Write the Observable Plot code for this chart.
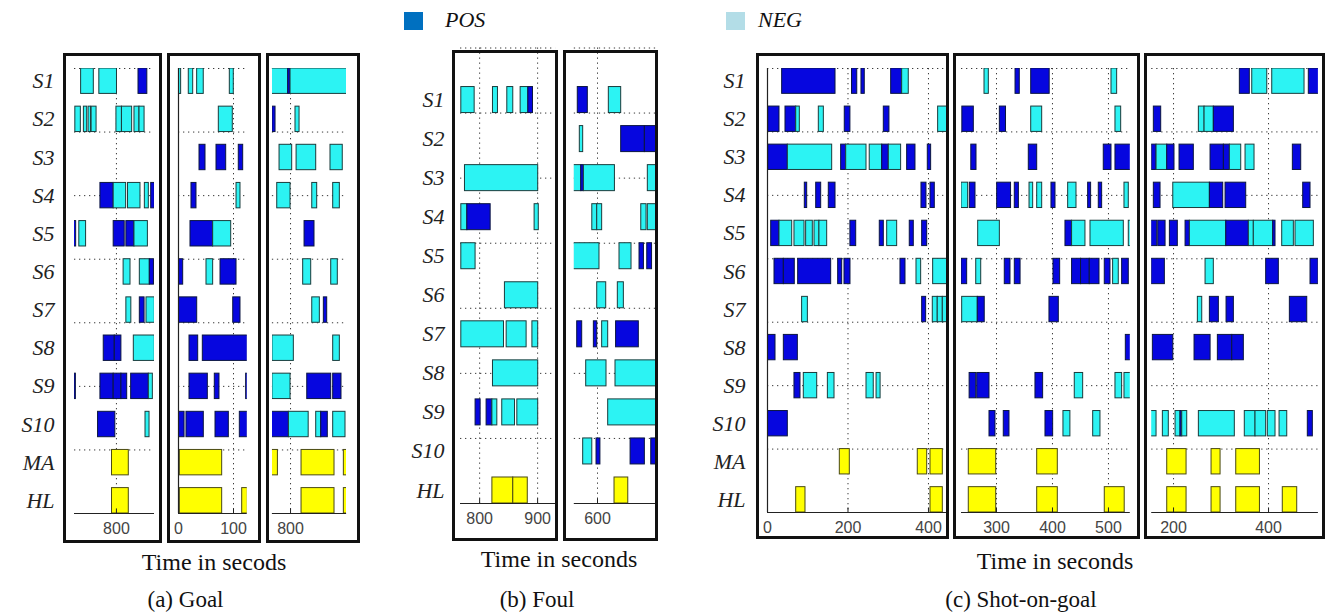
<!DOCTYPE html>
<html><head><meta charset="utf-8">
<script src="https://cdn.jsdelivr.net/npm/d3@7"></script>
<script src="https://cdn.jsdelivr.net/npm/@observablehq/plot@0.6"></script>
<style>
body{margin:0;background:#fff;}
#root{position:relative;width:1326px;height:614px;overflow:hidden;background:#fff;font-family:"Liberation Serif","Times New Roman",serif;}
.box{position:absolute;box-sizing:border-box;border:3px solid #111;pointer-events:none;}
.t{position:absolute;white-space:nowrap;line-height:1;color:#111;font-family:"Liberation Serif","Times New Roman",serif;}
.sq{position:absolute;}
</style></head><body><div id="root"></div>
<script>
// ---------- rows ----------
const rowsGoal = ["S1","S2","S3","S4","S5","S6","S7","S8","S9","S10","MA","HL"];
const rowsFoul = ["S1","S2","S3","S4","S5","S6","S7","S8","S9","S10","HL"];
const rowsShot = ["S1","S2","S3","S4","S5","S6","S7","S8","S9","S10","MA","HL"];

// ---------- x ticks ----------
const ticksGoalA = [800], ticksGoalB = [0, 100], ticksGoalC = [800];
const ticksFoulA = [800, 900], ticksFoulB = [600];
const ticksShotA = [0, 200, 400], ticksShotB = [300, 400, 500], ticksShotC = [200, 400];

// ---------- x domains (seconds) ----------
const domGoalA = [724, 869], domGoalB = [0, 125], domGoalC = [767, 902];
const domFoulA = [767, 931], domFoulB = [560, 702];
const domShotA = [0, 450], domShotB = [237.5, 539], domShotC = [154, 505];

// ---------- y grid (row units) ----------
const gridY12 = [-0.333, 1.333, 3, 4.667, 6.333, 8, 9.667];
const gridY11 = [-1.333, 0.333, 2, 3.667, 5.333, 7, 8.667];

// ---------- segments: [row, start, end, P=POS / N=NEG] ----------
const goalA = [
 ["S1",736,759,"N"],["S1",769,801,"N"],["S1",840,856,"P"],
 ["S2",725.5,735.5,"N"],["S2",741,747,"N"],["S2",749.5,754,"N"],["S2",755,764,"N"],["S2",800,810,"N"],["S2",810,828.5,"N"],["S2",832.7,841.8,"N"],["S2",841.8,851,"N"],
 ["S4",771,795,"P"],["S4",795,817.6,"N"],["S4",821,843.6,"N"],["S4",851.5,858.7,"N"],["S4",863,869.6,"P"],
 ["S5",722,727,"P"],["S5",732.7,745,"N"],["S5",795,815,"P"],["S5",818,832.7,"P"],["S5",832.7,857,"N"],
 ["S6",813,825.5,"N"],["S6",842.4,860.5,"N"],["S6",860.5,868,"P"],
 ["S7",818,827,"N"],["S7",842.4,851,"P"],["S7",854.5,869.6,"N"],
 ["S8",777,797,"P"],["S8",797,809,"P"],["S8",831.5,869.6,"N"],
 ["S9",724,726.5,"P"],["S9",771,795,"P"],["S9",795,809,"P"],["S9",809,819.5,"P"],["S9",826.7,858.7,"P"],["S9",858.7,866,"N"],
 ["S10",766.7,798,"P"],["S10",852.7,860,"N"],
 ["MA",792,822.4,"Y"],["HL",792,822.4,"Y"]
];
const goalB = [
 ["S1",0,4.8,"N"],["S1",18.7,26.7,"N"],["S1",33.9,45.9,"N"],["S1",93.3,100.5,"N"],
 ["S2",73.3,98.7,"N"],
 ["S3",38.2,49.1,"P"],["S3",69.1,86.7,"P"],["S3",109.6,117.6,"P"],
 ["S4",23.6,32.7,"P"],["S4",105.5,112.7,"N"],
 ["S5",21.8,63,"P"],["S5",63,95.8,"N"],
 ["S6",0.5,8.5,"P"],["S6",50.9,63,"N"],["S6",76.4,105.5,"P"],
 ["S7",0.5,34,"P"],["S7",99.5,112.7,"P"],
 ["S8",20,35.8,"P"],["S8",44.2,126,"P"],
 ["S9",20,53.3,"P"],["S9",66,74.5,"P"],["S9",123,126,"P"],
 ["S10",0.5,11,"P"],["S10",14.5,46,"P"],["S10",67.3,91.5,"P"],["S10",111.5,126,"P"],
 ["MA",2.4,79.4,"Y"],
 ["HL",2.4,79.4,"Y"],["HL",115.8,126,"Y"]
];
const goalC = [
 ["S1",760,795.8,"N"],["S1",795.8,800,"P"],["S1",800,910,"N"],
 ["S2",767,772.7,"P"],["S2",809,816.4,"N"],
 ["S3",780,803,"N"],["S3",811,846.7,"N"],["S3",872.7,895,"N"],
 ["S4",775.8,800,"N"],["S4",839.5,848.5,"N"],["S4",877.6,889.7,"N"],
 ["S5",825.5,843.6,"P"],
 ["S6",823,837.6,"N"],["S6",874,886,"N"],
 ["S7",839.5,853.3,"N"],["S7",860.6,866.7,"P"],
 ["S8",767,806,"N"],["S8",877.6,889.7,"N"],
 ["S9",767,800,"N"],["S9",830.4,874,"P"],["S9",877.6,892.7,"P"],
 ["S10",760,797,"P"],["S10",797,833,"N"],["S10",846.7,855.8,"N"],["S10",855.8,867.8,"P"],["S10",877.6,900,"N"],
 ["MA",760,777,"Y"],["MA",820,880,"Y"],["MA",897,910,"Y"],
 ["HL",820,880,"Y"],["HL",897,910,"Y"]
];
const foulA = [
 ["S1",768.4,791.4,"N"],["S1",823,831.6,"N"],["S1",847.7,858,"N"],["S1",870.7,884,"N"],["S1",884,892,"P"],
 ["S3",774.7,901,"N"],
 ["S4",768.4,778.8,"N"],["S4",778.8,819,"P"],["S4",894.8,902,"N"],
 ["S5",768.4,793,"N"],
 ["S6",843.6,901,"N"],
 ["S7",768.4,842,"N"],["S7",846.6,881,"N"],["S7",891,901,"N"],
 ["S8",823,901,"N"],
 ["S9",793,801.7,"P"],["S9",812,822,"P"],["S9",822,830.5,"N"],["S9",839,861,"N"],["S9",865,901,"N"],
 ["HL",822,858,"Y"],["HL",858,883,"Y"]
];
const foulB = [
 ["S1",566,583.3,"P"],["S1",619.5,640.8,"N"],
 ["S2",569.5,575.3,"N"],["S2",640.8,681.6,"P"],["S2",681.6,705,"P"],
 ["S3",558,572,"N"],["S3",572,576.5,"P"],["S3",576.5,630,"N"],["S3",686.7,701,"N"],
 ["S4",591,599.5,"N"],["S4",599.5,608,"N"],["S4",675.4,684.5,"N"],["S4",686.7,701,"N"],
 ["S5",558,603.4,"N"],["S5",637.9,658.6,"N"],["S5",672.4,680,"P"],["S5",685.7,694,"P"],
 ["S6",599.5,615,"N"],["S6",635,645.4,"N"],
 ["S7",565,573.6,"P"],["S7",593.7,599.5,"P"],["S7",608,618.4,"N"],["S7",632,671.2,"P"],
 ["S8",580.5,615.5,"N"],["S8",631,705,"N"],
 ["S9",618.4,705,"N"],
 ["S10",575.3,591,"N"],["S10",598.3,605,"P"],["S10",657,681.6,"P"],["S10",692.6,705,"P"],
 ["HL",629.3,653,"Y"]
];
const shotA = [
 ["S1",36.4,169,"P"],["S1",210,223,"P"],["S1",233.5,241.7,"P"],["S1",307.3,334.6,"P"],["S1",334.6,351,"N"],
 ["S2",1.7,29.8,"P"],["S2",44.7,71.3,"P"],["S2",71.3,80.3,"N"],["S2",127.5,140,"N"],["S2",192,206,"P"],["S2",289,303,"P"],["S2",424,455,"N"],
 ["S3",1.7,50.5,"P"],["S3",50.5,160.7,"N"],["S3",183,195.5,"P"],["S3",195.5,246,"N"],["S3",254,285,"N"],["S3",285,301.4,"P"],["S3",301.4,332,"N"],["S3",347,367.7,"P"],["S3",398.3,406.6,"P"],
 ["S4",92.7,98.6,"P"],["S4",121,133.4,"P"],["S4",152.3,169,"P"],["S4",382.6,395,"P"],["S4",405,415.7,"P"],
 ["S5",9.2,29.8,"P"],["S5",29.8,61.4,"N"],["S5",67,92,"N"],["S5",96,112.6,"N"],["S5",116.8,129,"N"],["S5",129,148.3,"N"],["S5",206,220.4,"P"],["S5",279,289,"P"],["S5",297.4,322.2,"N"],["S5",353.5,363.5,"P"],["S5",384.3,396.8,"P"],
 ["S6",17.4,40.6,"P"],["S6",40.6,67.8,"P"],["S6",76.2,158.2,"P"],["S6",175.6,185.6,"P"],["S6",191.3,206.2,"P"],["S6",330.4,342.9,"P"],["S6",370.2,381.8,"N"],["S6",411.6,455,"N"],
 ["S7",86,100.3,"N"],["S7",384.3,394.2,"P"],["S7",410.7,423,"N"],["S7",423,435.6,"N"],["S7",435.6,455,"N"],
 ["S8",0,19.9,"P"],["S8",40.6,75.4,"P"],
 ["S9",67,82,"P"],["S9",90.2,123.5,"N"],["S9",150,166.5,"N"],["S9",246,264,"N"],["S9",271,281,"N"],
 ["S10",0,50.5,"P"],
 ["MA",179.7,204.5,"Y"],["MA",373.4,396.8,"Y"],["MA",405,435.6,"Y"],
 ["HL",71.3,94.4,"Y"],["HL",405,435.6,"Y"]
];
const shotB = [
 ["S1",278.6,286.3,"N"],["S1",334,341.6,"P"],["S1",362,395,"P"],["S1",505.4,515.5,"N"],
 ["S2",239,259.5,"P"],["S2",306,317,"P"],["S2",362,381.6,"N"],["S2",512.5,522.7,"N"],
 ["S3",255,264.3,"P"],["S3",357.7,372.7,"P"],["S3",491.6,505.4,"P"],["S3",512.5,545,"P"],
 ["S4",237.5,249.4,"N"],["S4",252.4,262.5,"P"],["S4",301.2,326,"P"],["S4",332.7,340,"P"],["S4",359,365.5,"N"],["S4",372.7,381.6,"N"],["S4",398.2,405.4,"P"],["S4",428,442.9,"N"],["S4",463.7,469,"P"],["S4",482.7,488.7,"P"],["S4",528.6,536.3,"N"],
 ["S5",267.3,306,"N"],["S5",423.2,435,"P"],["S5",435,458.9,"N"],["S5",467.9,527.4,"N"],["S5",536.3,545,"N"],
 ["S6",237.5,247.6,"P"],["S6",263.8,272.7,"N"],["S6",314.8,325,"P"],["S6",332.7,343,"P"],["S6",401.8,413.7,"P"],["S6",435,451,"P"],["S6",451,466.6,"P"],["S6",466.6,484,"P"],["S6",493.4,503.6,"P"],["S6",508.3,518.4,"N"],["S6",524.4,536.3,"P"],
 ["S7",238.7,266.6,"N"],["S7",266.6,279,"P"],["S7",394.6,411.3,"P"],
 ["S8",531,545,"P"],
 ["S9",252,263.8,"P"],["S9",265.6,287.5,"P"],["S9",369.6,383.3,"P"],["S9",439.8,454.8,"N"],["S9",512.5,524.4,"N"],["S9",528.6,545,"N"],
 ["S10",287.5,298.2,"P"],["S10",313,323.2,"P"],["S10",387.5,401.2,"P"],["S10",419.6,432,"N"],["S10",472.7,485.7,"N"],
 ["MA",250.5,299.5,"Y"],["MA",372.7,409.5,"Y"],
 ["HL",250.5,299.5,"Y"],["HL",372.7,409.5,"Y"],["HL",493.4,529,"Y"]
];
const shotC = [
 ["S1",339.6,360.6,"P"],["S1",365.7,397.3,"N"],["S1",407.8,475.8,"N"],["S1",484.8,510,"P"],
 ["S2",158.5,174,"P"],["S2",253.3,265.3,"N"],["S2",265.3,284.8,"N"],["S2",284.8,327,"P"],
 ["S3",154,164.2,"P"],["S3",164.2,186.7,"N"],["S3",186.7,202,"P"],["S3",212.6,242.7,"P"],["S3",277.9,306,"P"],["S3",306,318.6,"P"],["S3",318.6,342.5,"N"],["S3",351.6,370.5,"N"],["S3",451.2,468.8,"P"],
 ["S4",158.5,172.6,"P"],["S4",199.4,276.5,"N"],["S4",276.5,304.6,"P"],["S4",309.5,353,"P"],["S4",473,488.4,"P"],
 ["S5",153,165.7,"P"],["S5",167.8,183.2,"P"],["S5",192.3,209,"P"],["S5",225.3,234.4,"P"],["S5",234.4,311,"N"],["S5",311,358.5,"P"],["S5",358.5,369,"N"],["S5",369,409.9,"N"],["S5",409.9,414.7,"P"],["S5",428.8,453.3,"N"],["S5",456.8,495.4,"N"],
 ["S6",153.7,181.7,"P"],["S6",267.4,284.8,"N"],["S6",395,421.7,"P"],["S6",488.4,505,"P"],
 ["S7",251.2,260.4,"N"],["S7",276.5,295.4,"P"],["S7",311.6,327,"P"],["S7",444.9,481.5,"P"],
 ["S8",156.4,199.4,"P"],["S8",244.2,278,"P"],["S8",293.3,323.6,"P"],["S8",323.6,348,"P"],
 ["S10",150,164.2,"N"],["S10",177.5,190,"N"],["S10",204.2,214.7,"N"],["S10",214.7,218.3,"P"],["S10",218.3,228.8,"N"],["S10",253.3,329,"N"],["S10",350,372.6,"N"],["S10",372.6,395,"N"],["S10",398.5,414.7,"N"],["S10",423.2,439.4,"N"],["S10",482.7,493.3,"P"],
 ["MA",186.7,227.4,"Y"],["MA",280,299,"Y"],["MA",332,381.9,"Y"],
 ["HL",186.7,227.4,"Y"],["HL",280,299,"Y"],["HL",332,381.9,"Y"],["HL",430,460.4,"Y"]
];

// ---------- rendering ----------
const root = document.getElementById("root");
const FILL = {P: "#0606df", N: "#2cf3f3", Y: "#ffff00"};
const STROKE = {P: "#0b1640", N: "#1a3c3c", Y: "#4a4a14"};
const DOT = "1.3,3.7";

function panel(cfg) {
  const [bl, bt, br, bb] = cfg.box;
  const svgLeft = cfg.labelDx != null ? cfg.svgLeft : bl;
  const svgTop = 38;
  const [yTopVal, yBotVal] = cfg.yDomain;
  const idx = new Map(cfg.rows.map((r, i) => [r, i]));
  const half = 0.333;
  const segs = cfg.data.map(([r, s, e, t]) => ({y: idx.get(r), s, e, t}));
  const marks = [
    Plot.ruleY(cfg.gridY, {stroke: "#3a3a3a", strokeWidth: 1, strokeDasharray: DOT}),
    Plot.ruleX(cfg.ticks.filter(v => v !== 0), {y1: yTopVal, y2: yBotVal, stroke: "#3a3a3a", strokeWidth: 1, strokeDasharray: DOT}),
    Plot.rect(segs, {x1: "s", x2: "e", y1: d => d.y - half, y2: d => d.y + half,
      fill: d => FILL[d.t], stroke: d => STROKE[d.t], strokeWidth: 1, clip: true}),
    Plot.ruleY([yBotVal], {stroke: "#222", strokeWidth: 1.2}),
    Plot.ruleX(cfg.ticks, {y1: yBotVal, y2: yBotVal - 0.12, stroke: "#222", strokeWidth: 1}),
    Plot.axisX({ticks: cfg.ticks, tickSize: 0, tickPadding: 9, fontSize: 16,
      fontFamily: "Liberation Sans, Arial, sans-serif", fill: "#444"})
  ];
  if (cfg.domain[0] === 0) marks.push(Plot.ruleX([0], {y1: yTopVal, y2: yBotVal, stroke: "#222", strokeWidth: 1.2}));
  if (cfg.labelDx != null) {
    marks.push(Plot.text(cfg.rows, {y: (d, i) => i, text: d => d, frameAnchor: "left", textAnchor: "end",
      dx: -cfg.labelDx, fontSize: 22, fontStyle: "italic", fontFamily: "Liberation Serif, Times New Roman, serif", fill: "#222"}));
  }
  const svg = Plot.plot({
    width: br - svgLeft,
    height: bb - svgTop,
    marginLeft: cfg.plotX[0] - svgLeft,
    marginRight: br - cfg.plotX[1],
    marginTop: cfg.plotY[0] - svgTop,
    marginBottom: bb - cfg.plotY[1],
    x: {domain: cfg.domain, axis: null},
    y: {domain: [yBotVal, yTopVal], axis: null},
    style: {background: "transparent", overflow: "visible"},
    marks
  });
  svg.style.position = "absolute";
  svg.style.left = svgLeft + "px";
  svg.style.top = svgTop + "px";
  svg.style.maxWidth = "none";
  root.appendChild(svg);
  const b = document.createElement("div");
  b.className = "box";
  Object.assign(b.style, {left: bl + "px", top: bt + "px", width: (br - bl) + "px", height: (bb - bt) + "px"});
  root.appendChild(b);
}

const Y12 = {rows: rowsGoal, yDomain: [-0.333, 11.333], gridY: gridY12};
panel({...Y12, data: goalA, domain: domGoalA, ticks: ticksGoalA, box: [63, 53, 162, 543], plotX: [74, 154], plotY: [68, 513], svgLeft: 0, labelDx: 20});
panel({...Y12, data: goalB, domain: domGoalB, ticks: ticksGoalB, box: [167, 53, 261, 543], plotX: [178, 246.75], plotY: [68, 513]});
panel({...Y12, data: goalC, domain: domGoalC, ticks: ticksGoalC, box: [266, 53, 360, 543], plotX: [271.9, 346.1], plotY: [68, 513]});

const Y11 = {rows: rowsFoul, yDomain: [-1.333, 10.333], gridY: gridY11};
panel({...Y11, data: foulA, domain: domFoulA, ticks: ticksFoulA, box: [452, 49.5, 558, 541], plotX: [460, 555.1], plotY: [47.5, 503], svgLeft: 390, labelDx: 16});
panel({...Y11, data: foulB, domain: domFoulB, ticks: ticksFoulB, box: [563, 49.5, 658, 541], plotX: [573.8, 656.2], plotY: [47.5, 503]});

const S12 = {rows: rowsShot, yDomain: [-0.333, 11.333], gridY: gridY12};
panel({...S12, data: shotA, domain: domShotA, ticks: ticksShotA, box: [756, 53, 949, 539], plotX: [767, 948.1], plotY: [68, 512], svgLeft: 690, labelDx: 22});
panel({...S12, data: shotB, domain: domShotB, ticks: ticksShotB, box: [953, 53, 1140, 539], plotX: [961, 1129.8], plotY: [68, 512]});
panel({...S12, data: shotC, domain: domShotC, ticks: ticksShotC, box: [1144, 53, 1325, 539], plotX: [1151.2, 1317.9], plotY: [68, 512]});

// ---------- text ----------
function txt(s, cx, baseline, size, extra) {
  const d = document.createElement("div");
  d.className = "t";
  d.textContent = s;
  d.style.fontSize = size + "px";
  d.style.top = (baseline - 0.838 * size) + "px";
  d.style.left = cx + "px";
  d.style.transform = "translateX(-50%)";
  if (extra) Object.assign(d.style, extra);
  root.appendChild(d);
}
txt("Time in secods", 214, 570, 24);
txt("Time in seconds", 559, 567, 24);
txt("Time in seconds", 1055, 569, 24);
txt("(a) Goal", 185.5, 607, 23);
txt("(b) Foul", 537, 607, 23);
txt("(c) Shot-on-goal", 1021, 607, 23);

// legend
const legend = [{label: "POS", color: "#0070c0", sq: 404, tx: 445}, {label: "NEG", color: "#b3dde7", sq: 726, tx: 758}];
legend.forEach(l => {
  const s = document.createElement("div");
  s.className = "sq";
  Object.assign(s.style, {left: l.sq + "px", top: "11.5px", width: "19px", height: "18.5px", background: l.color});
  root.appendChild(s);
  const d = document.createElement("div");
  d.className = "t";
  d.textContent = l.label;
  Object.assign(d.style, {fontSize: "22px", fontStyle: "italic", left: l.tx + "px", top: (27.5 - 0.838 * 22) + "px"});
  root.appendChild(d);
});
</script></body></html>
